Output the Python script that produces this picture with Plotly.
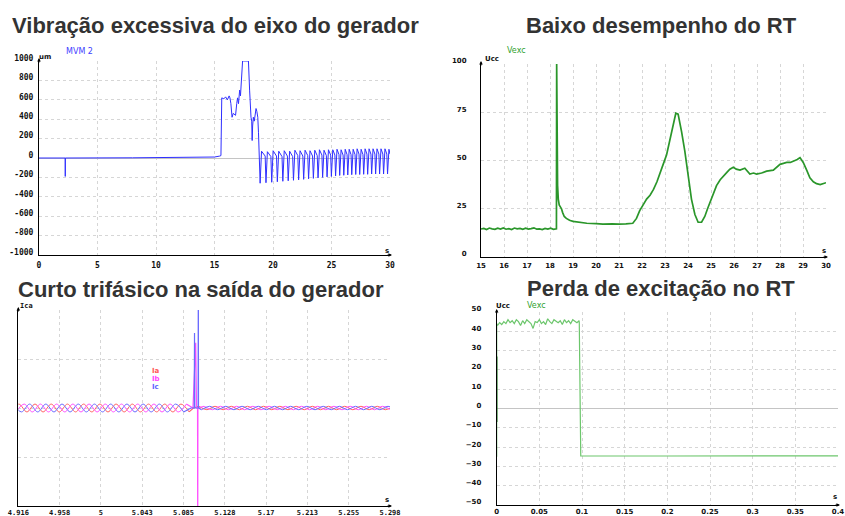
import numpy as np
import plotly.graph_objects as go

W, H = 845, 516

# ---------------- DATA ----------------
# Panel 1: Vibração excessiva do eixo do gerador (MVM 2, um)
VIB_T = [0.0, 2.24, 2.245, 2.25, 8.0, 14.3, 15.0, 15.45, 15.55, 15.62, 15.8, 15.95, 16.1, 16.25,
         16.32, 16.4, 16.5, 16.6, 16.7, 16.8, 16.9, 16.97, 17.05, 17.15, 17.22, 17.3, 17.4, 17.47,
         17.9, 18.0, 18.06, 18.12, 18.18, 18.22, 18.26, 18.32, 18.4, 18.48, 18.55, 18.62, 18.7,
         18.76, 18.82, 18.9]
VIB_V = [0, 0, -190, 0, 2, 6, 10, 20, 25, 620, 610, 630, 600, 640,
         620, 560, 420, 460, 445, 440, 560, 620, 560, 700, 640, 850, 1000, 1000,
         1000, 700, 500, 420, 380, 180, 330, 420, 380, 470, 510, 480, 420,
         260, 100, -260]
VIB_OSC_T = [19.02, 19.33, 19.4, 19.52, 19.82, 19.89, 20.01, 20.3, 20.37, 20.49, 20.77, 20.84,
             20.96, 21.23, 21.3, 21.42, 21.68, 21.75, 21.87, 22.12, 22.19, 22.31, 22.55, 22.62,
             22.74, 22.97, 23.04, 23.16, 23.38, 23.45, 23.57, 23.78, 23.85, 23.97, 24.18, 24.24,
             24.36, 24.56, 24.62, 24.74, 24.93, 24.99, 25.11, 25.29, 25.35, 25.47, 25.64, 25.7,
             25.82, 25.99, 26.05, 26.17, 26.33, 26.39, 26.51, 26.67, 26.73, 26.85, 27.01, 27.07,
             27.19, 27.35, 27.41, 27.53, 27.69, 27.75, 27.87, 28.03, 28.09, 28.21, 28.37, 28.43,
             28.55, 28.71, 28.77, 28.89, 29.05, 29.11, 29.23, 29.39, 29.45, 29.57, 29.73, 29.79,
             29.91, 30.0]
VIB_OSC_V = [70, 20, -255, 65, 15, -250, 75, 20, -245, 70, 15, -240,
             75, 20, -235, 70, 15, -230, 80, 25, -225, 75, 20, -220,
             80, 25, -215, 75, 20, -210, 80, 25, -205, 85, 30, -200,
             80, 25, -195, 85, 30, -190, 85, 30, -185, 90, 35, -180,
             85, 30, -178, 90, 35, -175, 90, 35, -172, 90, 35, -170,
             95, 40, -170, 90, 35, -168, 95, 40, -168, 95, 40, -165,
             95, 40, -165, 95, 40, -165, 95, 40, -165, 95, 40, -165,
             90, 40]
VIB_YTICKS = [1000, 800, 600, 400, 200, 0, -200, -400, -600, -800, -1000]
VIB_XTICKS = [0, 5, 10, 15, 20, 25, 30]

# Panel 2: Baixo desempenho do RT (Vexc, Ucc)
VEXC_FLAT_V = [14.5, 14.8, 14.2, 15.0, 14.6, 14.3, 14.9, 14.5, 15.1, 14.4, 14.7, 14.2, 15.0, 14.6,
               14.8, 14.3, 14.9, 14.5, 14.7, 15.1, 14.4, 14.6, 14.2, 14.8, 14.5, 14.9, 14.3, 14.6]
VEXC_T = [18.28, 18.29, 18.31, 18.33, 18.36, 18.40, 18.45, 18.5, 18.55, 18.62, 18.71, 18.85, 19.0,
          19.3, 19.6, 20.0, 20.3, 20.7, 21.0, 21.3, 21.6, 21.76, 21.9, 22.05, 22.2, 22.35, 22.5,
          22.65, 22.78, 22.92, 23.07, 23.2, 23.36, 23.47, 23.57, 23.65, 23.72, 23.86, 24.0, 24.15,
          24.3, 24.44, 24.59, 24.73, 24.85, 24.95, 25.1, 25.24, 25.4, 25.53, 25.7, 25.82, 25.97,
          26.1, 26.26, 26.47, 26.69, 26.85, 26.98, 27.2, 27.42, 27.71, 27.85, 28.0, 28.15, 28.29,
          28.45, 28.58, 28.75, 28.87, 29.01, 29.16, 29.3, 29.45, 29.59, 29.75, 29.88, 30.0]
VEXC_V = [14.6, 100, 50, 37, 30, 27, 26, 25, 23, 21, 20, 19, 18.5,
          18, 17.5, 17.3, 17, 17.2, 17, 17.2, 17.5, 20, 24, 27, 30, 32, 35,
          39, 43, 48, 53, 60, 70, 74.5, 74, 70, 65, 55, 42, 30,
          22, 18, 18, 21, 25, 28, 33, 37, 40, 42, 44, 45.5, 46.5,
          45.5, 45, 46, 43, 43.5, 43, 43.5, 44.5, 45, 46.5, 48, 48.5, 49,
          49, 49.5, 50.5, 51.5, 49, 45, 41, 39, 38, 37.5, 38, 38.5]
RT_YTICKS = [0, 25, 50, 75, 100]
RT_XTICKS = [15, 16, 17, 18, 19, 20, 21, 22, 23, 24, 25, 26, 27, 28, 29, 30]

# Panel 3: Curto trifásico na saída do gerador (Ia, Ib, Ic)
IA_PRE = [-0.08, 0.08, -0.08, 0.08, -0.08, 0.08, -0.08, 0.08, -0.08, 0.08, -0.08, 0.08,
          -0.08, 0.08, -0.08, 0.08, -0.08, 0.08, -0.08, 0.08, -0.08, 0.08, -0.08]
IB_PRE = [-0.08, 0.08, -0.08, 0.08, -0.08, 0.08, -0.08, 0.08, -0.08, 0.08, -0.08,
          0.08, -0.08, 0.08, -0.08, 0.08, -0.08, 0.08, -0.08, 0.08, -0.08, 0.08]
IC_PRE = [0.08, -0.08, 0.08, -0.08, 0.08, -0.08, 0.08, -0.08, 0.08, -0.08, 0.08,
          -0.08, 0.08, -0.08, 0.08, -0.08, 0.08, -0.08, 0.08, -0.08, 0.08, -0.08]
IA_POST = [0.035, -0.035, 0.035, -0.035, 0.035, -0.035, 0.035, -0.035, 0.035, -0.035, 0.035, -0.035,
           0.035, -0.035, 0.035, -0.035, 0.035, -0.035, 0.035, -0.035, 0.035, -0.035, 0.035, -0.035, 0.035]
IB_POST = [0.035, -0.035, 0.035, -0.035, 0.035, -0.035, 0.035, -0.035, 0.035, -0.035, 0.035, -0.035,
           0.035, -0.035, 0.035, -0.035, 0.035, -0.035, 0.035, -0.035, 0.035, -0.035, 0.035, -0.035]
IC_POST = [-0.035, 0.035, -0.035, 0.035, -0.035, 0.035, -0.035, 0.035, -0.035, 0.035, -0.035, 0.035,
           -0.035, 0.035, -0.035, 0.035, -0.035, 0.035, -0.035, 0.035, -0.035, 0.035, -0.035, 0.035, -0.035]
IA_FAULT_T = [5.0915, 5.096, 5.1015]
IA_FAULT_V = [-0.08, 0.0, 0.035]
IB_FAULT_T = [5.0887, 5.0955, 5.0983, 5.0989, 5.0992, 5.1002, 5.1004, 5.1006, 5.10706]
IB_FAULT_V = [0.08, 0.0, 1.33, 0.8, 0.0, 0.0, -3.0, 0.0, 0.035]
IC_FAULT_T = [5.0859, 5.0935, 5.0968, 5.0971, 5.0974, 5.1008, 5.1010, 5.1012, 5.10428]
IC_FAULT_V = [-0.08, 0.0, 0.0, 1.53, 0.0, 0.0, 3.0, 0.0, -0.035]
ICA_XTICKTEXT = ["4.916", "4.958", "5", "5.043", "5.085", "5.128", "5.17", "5.213", "5.255", "5.298"]
ICA_RANGE = [4.916, 5.298]

# Panel 4: Perda de excitação no RT (Vexc, Ucc)
VEXC2_NOISE = [43.0, 44.5, 43.5, 45.0, 44.0, 46.0, 44.5, 45.5, 44.0, 46.0, 45.0, 43.0, 45.5, 44.0,
               46.0, 45.0, 44.0, 41.5, 45.0, 44.5, 46.0, 44.0, 45.0, 43.5, 46.5, 45.0, 44.0, 46.0,
               45.0, 44.5, 45.5, 43.5, 46.0, 44.5, 45.5, 44.0, 46.0, 45.0, 44.5, 45.5]
VEXC2_START_T = [0.0, 0.0]
VEXC2_START_V = [-25.0, 44.0]
VEXC2_DROP_T = [0.0968, 0.0972, 0.0985, 0.2, 0.4]
VEXC2_DROP_V = [44.5, 27.0, -24.5, -24.6, -24.5]
VEXC2_DARK_T = [0.0, 0.0]
VEXC2_DARK_V = [-7.0, 27.0]
PE_YTICKS = [50, 40, 30, 20, 10, 0, -10, -20, -30, -40, -50]
PE_XTICKS = [0, 0.05, 0.1, 0.15, 0.2, 0.25, 0.3, 0.35, 0.4]
PE_XTICKTEXT = ["0", "0.05", "0.1", "0.15", "0.2", "0.25", "0.3", "0.35", "0.4"]

# ---------------- FIGURE ----------------
def dx(a, b):
    return [a / W, b / W]

def dy(top, bottom):
    return [1 - bottom / H, 1 - top / H]

def px(x):
    return x / W

def py(y):
    return 1 - y / H

fig = go.Figure()

# panel 1
fig.add_trace(go.Scatter(x=VIB_T + VIB_OSC_T, y=VIB_V + VIB_OSC_V, mode="lines",
                         line=dict(color="#2f2fff", width=1), xaxis="x", yaxis="y",
                         showlegend=False, hoverinfo="skip"))

# panel 2
flat_t = list(np.linspace(15.0, 18.27, len(VEXC_FLAT_V)))
fig.add_trace(go.Scatter(x=flat_t + VEXC_T, y=VEXC_FLAT_V + VEXC_V, mode="lines",
                         line=dict(color="#2a962a", width=1.7), xaxis="x2", yaxis="y2",
                         showlegend=False, hoverinfo="skip"))

# panel 3
T = 1 / 60.0
half = T / 2
t0 = 4.9165
t0p = 5.1015
phase_specs = [
    ("#ff6262", t0 - half, IA_PRE, IA_FAULT_T, IA_FAULT_V, t0p, IA_POST),
    ("#ff4fff", t0 - T / 6, IB_PRE, IB_FAULT_T, IB_FAULT_V, t0p + T / 3, IB_POST),
    ("#6b6bff", t0 - T / 3, IC_PRE, IC_FAULT_T, IC_FAULT_V, t0p + T / 6, IC_POST),
]
for color, s_pre, pre, ft, fv, s_post, post in phase_specs:
    tp = [s_pre + i * half for i in range(len(pre))]
    fig.add_trace(go.Scatter(x=tp, y=pre, mode="lines", line=dict(color=color, width=1, shape="spline"),
                             xaxis="x3", yaxis="y3", showlegend=False, hoverinfo="skip"))
    tq = [s_post + i * half for i in range(len(post))]
    fig.add_trace(go.Scatter(x=tq, y=post, mode="lines", line=dict(color=color, width=1, shape="spline"),
                             xaxis="x3", yaxis="y3", showlegend=False, hoverinfo="skip"))
    fig.add_trace(go.Scatter(x=ft, y=fv, mode="lines", line=dict(color=color, width=1.2),
                             xaxis="x3", yaxis="y3", showlegend=False, hoverinfo="skip"))

# panel 4
noise_t = list(np.linspace(0.001, 0.0965, len(VEXC2_NOISE)))
fig.add_trace(go.Scatter(x=VEXC2_START_T + noise_t + VEXC2_DROP_T,
                         y=VEXC2_START_V + VEXC2_NOISE + VEXC2_DROP_V, mode="lines",
                         line=dict(color="#6cc66c", width=1.2), xaxis="x4", yaxis="y4",
                         showlegend=False, hoverinfo="skip"))
fig.add_trace(go.Scatter(x=VEXC2_DARK_T, y=VEXC2_DARK_V, mode="lines",
                         line=dict(color="#1d6a1d", width=1.5), xaxis="x4", yaxis="y4",
                         showlegend=False, hoverinfo="skip"))

tickfont = dict(family="DejaVu Sans Mono", size=8, color="#111111", weight="bold")
tickfont_b = dict(family="DejaVu Sans Mono", size=7, color="#111111", weight="bold")
tickfont_s = dict(family="DejaVu Sans", size=7, color="#111111", weight="bold")
base = dict(showline=True, linecolor="black", linewidth=1, showgrid=True, gridcolor="#d6d6d6",
            griddash="dot", gridwidth=1, ticks="", zeroline=False, automargin=False,
            fixedrange=True, mirror=False)

layout_axes = dict(
    xaxis=dict(base, domain=dx(39, 390), range=[0, 30], tickvals=VIB_XTICKS, anchor="y",
               tickfont=tickfont, ticklabelstandoff=2),
    yaxis=dict(base, domain=dy(61, 255), range=[-1000, 1000], tickvals=VIB_YTICKS,
               ticktext=[str(v) for v in VIB_YTICKS], anchor="x", tickfont=tickfont,
               zeroline=True, zerolinecolor="#c4c4c4", zerolinewidth=1, ticklabelstandoff=3,
               ticklabelshift=-3),
    xaxis2=dict(base, domain=dx(481, 826), range=[15, 30], tickvals=RT_XTICKS, anchor="y2",
                tickfont=tickfont_s, ticklabelstandoff=2),
    yaxis2=dict(base, domain=dy(64, 257), range=[0, 100], tickvals=RT_YTICKS, anchor="x2",
                tickfont=tickfont_s, ticklabelstandoff=12, ticklabelshift=-3),
    xaxis3=dict(base, domain=dx(18.3, 390), range=ICA_RANGE,
                tickvals=list(np.linspace(ICA_RANGE[0], ICA_RANGE[1], len(ICA_XTICKTEXT))),
                ticktext=ICA_XTICKTEXT, anchor="y3", tickfont=tickfont_b, ticklabelstandoff=0),
    yaxis3=dict(base, domain=dy(310, 506), range=[-2, 2], tickvals=[-2, -1, 0, 1, 2],
                showticklabels=False, anchor="x3"),
    xaxis4=dict(base, domain=dx(496.7, 838), range=[0, 0.4], tickvals=PE_XTICKS,
                ticktext=PE_XTICKTEXT, anchor="y4", tickfont=tickfont_s, ticklabelstandoff=0),
    yaxis4=dict(base, domain=dy(312, 505), range=[-50, 50], tickvals=PE_YTICKS, anchor="x4",
                tickfont=tickfont_s, zeroline=True, zerolinecolor="#c4c4c4", zerolinewidth=1,
                ticklabelstandoff=13, ticklabelshift=-3),
)

title_font = dict(family="Liberation Sans, Arial, sans-serif", size=22, color="#333333")
small = dict(family="DejaVu Sans", size=7, color="#111111")

annotations = []
def add_text(text, x, y, font, xanchor="center", yanchor="middle"):
    annotations.append(dict(text=text, x=px(x), y=py(y), xref="paper", yref="paper",
                            showarrow=False, font=font, xanchor=xanchor, yanchor=yanchor))

add_text("<b>Vibração excessiva do eixo do gerador</b>", 215, 26, title_font)
add_text("<b>Baixo desempenho do RT</b>", 661.5, 26, title_font)
add_text("<b>Curto trifásico na saída do gerador</b>", 201, 289, title_font)
add_text("<b>Perda de excitação no RT</b>", 661, 288, title_font)

add_text("MVM 2", 79, 52, dict(family="DejaVu Sans", size=8, color="#4040ff"))
add_text("<b>um</b>", 45, 57, small)
add_text("Vexc", 516, 51, dict(family="DejaVu Sans", size=8, color="#2f9f2f"))
add_text("<b>Ucc</b>", 492, 59, small)
add_text("<b>Ica</b>", 26, 306, dict(family="DejaVu Sans Mono", size=7, color="#111111"))
add_text("<b>Ia</b>", 150, 371, dict(family="DejaVu Sans", size=7, color="#ff5a5a"), xanchor="left")
add_text("<b>Ib</b>", 150, 379, dict(family="DejaVu Sans", size=7, color="#ff44ff"), xanchor="left")
add_text("<b>Ic</b>", 150, 387, dict(family="DejaVu Sans", size=7, color="#6262ff"), xanchor="left")
add_text("Vexc", 536, 305, dict(family="DejaVu Sans", size=8, color="#2f9f2f"))
add_text("<b>Ucc</b>", 503, 305.5, small)
add_text("<b>s</b>", 387, 251, small)
add_text("<b>s</b>", 824, 251, small)
add_text("<b>s</b>", 387, 500, small)
add_text("<b>s</b>", 835, 497, small)

# axis arrows
arrow_specs = [("x", "y", 0, 1000, 30, -1000),
               ("x2", "y2", 15, 100, 30, 0),
               ("x3", "y3", ICA_RANGE[0], 2, ICA_RANGE[1], -2),
               ("x4", "y4", 0, 50, 0.4, -50)]
for xr, yr, xl, yt, xe, yb in arrow_specs:
    annotations.append(dict(x=xl, y=yt, xref=xr, yref=yr, ax=0, ay=6, text="", showarrow=True,
                            arrowhead=2, arrowsize=0.7, arrowwidth=1, arrowcolor="black", yshift=3))
    annotations.append(dict(x=xe, y=yb, xref=xr, yref=yr, ax=-6, ay=0, text="", showarrow=True,
                            arrowhead=2, arrowsize=0.7, arrowwidth=1, arrowcolor="black", xshift=2))

fig.update_layout(
    width=W, height=H, autosize=False,
    margin=dict(l=0, r=0, t=0, b=0),
    paper_bgcolor="white", plot_bgcolor="white",
    template="none",
    showlegend=False,
    annotations=annotations,
    **layout_axes,
)

fig.write_html("out.html", config={"displayModeBar": False},
               post_script="document.body.style.margin='0px';")
